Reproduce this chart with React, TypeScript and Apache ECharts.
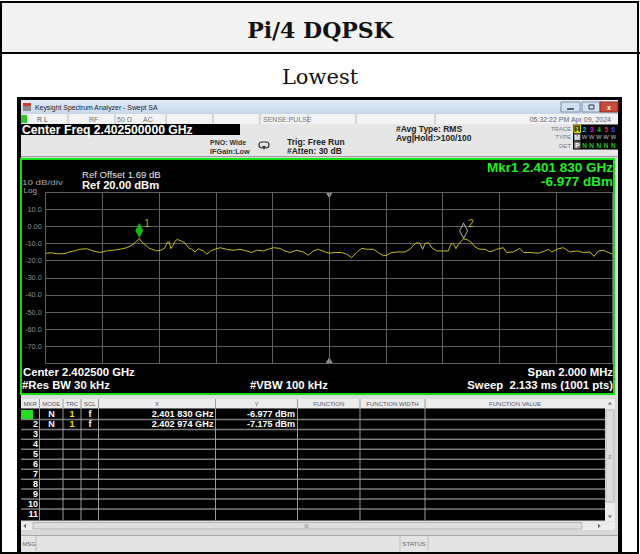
import React, { useEffect, useRef } from 'react';
import * as echarts from 'echarts';

// ---- data ----
const titleText = 'Pi/4 DQPSK';
const subTitleText = 'Lowest';
// trace: frequency offset from centre (kHz) and level (dBm)
const traceOffsetKHz = [-1000, -978, -957, -932, -914, -897, -879, -855, -833, -809, -785, -763, -738, -714, -697, -685, -670, -661, -650, -638, -626, -609, -591, -579, -571, -564, -559, -552, -544, -536, -520, -509, -497, -485, -473, -462, -444, -432, -418, -403, -385, -362, -338, -315, -291, -273, -256, -232, -215, -197, -174, -156, -138, -115, -91, -74, -56, -38, -15, 3, 21, 44, 62, 79, 97, 115, 132, 156, 173, 191, 203, 221, 244, 267, 285, 297, 309, 320, 330, 338, 350, 362, 379, 403, 420, 429, 438, 447, 455, 474, 491, 503, 514, 532, 550, 567, 591, 614, 626, 649, 673, 685, 708, 738, 761, 773, 785, 808, 826, 849, 873, 896, 920, 934, 949, 967, 985, 1000];
const traceLevelDbm = [-15.6, -15.4, -16.0, -15.8, -14.8, -14.2, -13.3, -13.0, -14.3, -15.2, -14.3, -13.9, -13.3, -12.4, -11.0, -9.5, -6.977, -9.1, -10.5, -12.4, -13.3, -14.3, -13.7, -12.4, -9.1, -9.1, -13.0, -11.4, -8.6, -7.6, -8.6, -9.5, -12.4, -13.3, -14.9, -13.0, -14.3, -16.2, -14.3, -13.3, -12.4, -13.3, -13.9, -13.3, -14.3, -15.2, -13.9, -14.3, -13.3, -12.4, -12.8, -14.3, -15.2, -13.9, -14.9, -16.8, -14.3, -13.3, -14.9, -15.6, -15.2, -15.2, -16.2, -18.1, -15.2, -12.8, -13.3, -13.3, -15.2, -17.1, -16.8, -15.2, -14.9, -14.9, -13.3, -11.0, -9.5, -9.9, -13.3, -9.9, -9.5, -12.4, -14.3, -14.3, -14.3, -10.5, -9.9, -13.0, -10.5, -7.175, -8.0, -9.5, -12.0, -13.3, -13.3, -14.9, -13.3, -12.4, -15.2, -14.9, -12.8, -15.2, -15.2, -15.6, -14.3, -13.3, -14.9, -13.0, -12.4, -14.9, -14.3, -15.2, -14.9, -17.5, -14.3, -13.9, -15.2, -16.2];
const markerNames = ['1', '2'];
const markerOffsetKHz = [-670, 474];
const markerLevelDbm = [-6.977, -7.175];
const markerXText = ['2.401 830 GHz', '2.402 974 GHz'];
const markerYText = ['-6.977 dBm', '-7.175 dBm'];
const yTickValues = [10, 0, -10, -20, -30, -40, -50, -60, -70];
const yTickLabels = ['10.0', '0.00', '-10.0', '-20.0', '-30.0', '-40.0', '-50.0', '-60.0', '-70.0'];
const tableHeaders = ['MKR', 'MODE', 'TRC', 'SCL', 'X', 'Y', 'FUNCTION', 'FUNCTION WIDTH', 'FUNCTION VALUE'];
const rowNumbers = ['1', '2', '3', '4', '5', '6', '7', '8', '9', '10', '11'];

const SANS = 'Liberation Sans, Arial, Helvetica, sans-serif';
const SERIF = 'DejaVu Serif, Liberation Serif, serif';

function T(x: number, y: number, text: string, size: number, fill: string, o: any = {}) {
  const el: any = {
    type: 'text', x, y, z: 30, silent: true,
    style: {
      text, fill, fontSize: size, fontFamily: o.family || SANS,
      fontWeight: o.bold ? 'bold' : 'normal',
      textAlign: o.align || 'left', textVerticalAlign: 'middle',
    },
  };
  if (o.sx) el.scaleX = o.sx;
  return el;
}
function R(x: number, y: number, w: number, h: number, fill: any, stroke?: string, lw = 1, z = 1) {
  return {
    type: 'rect', z, silent: true,
    shape: { x, y, width: w, height: h },
    style: { fill, stroke: stroke || null, lineWidth: stroke ? lw : 0 },
  };
}
function L(x1: number, y1: number, x2: number, y2: number, stroke: string, lw = 1, z = 3) {
  return { type: 'line', z, silent: true, shape: { x1, y1, x2, y2 }, style: { stroke, lineWidth: lw } };
}
function P(points: number[][], fill: string, z = 4) {
  return { type: 'polygon', z, silent: true, shape: { points }, style: { fill } };
}

function buildGraphics() {
  const g: any[] = [];
  // page / table
  g.push(R(0, 0, 640, 554, '#ffffff', undefined, 0, 0));
  g.push(R(1, 2, 637, 51, '#f2f2f2', undefined, 0, 1));
  g.push(R(1, 2, 637, 551, null, '#000000', 2, 25));
  g.push(R(0, 52, 640, 2, '#000000', undefined, 0, 25));
  g.push(T(320, 30, titleText, 22, '#111', { bold: true, align: 'center', family: SERIF }));
  g.push(T(320, 77, subTitleText, 21, '#111', { align: 'center', family: SERIF }));

  // screenshot frame
  g.push(R(17, 97, 605, 457, '#000000', undefined, 0, 1));
  g.push(R(21, 100, 597, 452, '#d9d9d9', undefined, 0, 2));
  // title bar
  g.push(R(21, 100, 597, 14, new echarts.graphic.LinearGradient(0, 0, 0, 1, [
    { offset: 0, color: '#e3ecf7' }, { offset: 1, color: '#c6d6ea' }]), undefined, 0, 3));
  g.push(R(23, 103, 8, 8, '#8a8a8a', undefined, 0, 4));
  g.push(R(23, 103, 8, 3, '#d23a2a', undefined, 0, 5));
  g.push(T(35, 107.5, 'Keysight Spectrum Analyzer - Swept SA', 6.9, '#222'));
  g.push(R(561, 102, 19, 10, '#d3e0f1', '#7d8fa8', 1, 4));
  g.push(R(582, 102, 18, 10, '#d3e0f1', '#7d8fa8', 1, 4));
  g.push(R(600, 102, 18, 10, '#c94b3c', '#8a2a20', 1, 4));
  g.push(L(567, 109, 574, 109, '#333', 1.5, 6));
  g.push(R(589, 105, 5, 4, null, '#333', 1, 6));
  g.push(T(609, 107, 'x', 7, '#ffffff', { bold: true, align: 'center' }));
  // status row
  g.push(R(21, 114, 597, 10, '#f2f2f2', undefined, 0, 3));
  g.push(R(21, 115, 6, 8, '#2fc52f', undefined, 0, 4));
  [68, 115, 166, 213, 260, 308, 356, 435].forEach((x) => g.push(L(x, 114, x, 124, '#b9b9b9', 1, 4)));
  g.push(T(37, 119, 'R L', 7, '#555'));
  g.push(T(89, 119, 'RF', 7, '#777'));
  g.push(T(117, 119, '50 Ω', 7, '#777'));
  g.push(T(143, 119, 'AC', 7, '#777'));
  g.push(T(263, 119, 'SENSE:PULSE', 7, '#777'));
  g.push(T(611, 119, '05:32:22 PM Apr 09, 2024', 7, '#666', { align: 'right' }));
  // settings area
  g.push(R(21, 124, 597, 32, '#e6e6e6', undefined, 0, 3));
  g.push(R(21, 124, 219, 11, '#000000', undefined, 0, 4));
  g.push(T(22, 129.8, 'Center Freq 2.402500000 GHz', 12.2, '#ffffff', { bold: true }));
  g.push(T(210, 142, 'PNO: Wide', 7, '#333', { bold: true }));
  g.push(T(210, 151, 'IFGain:Low', 7.3, '#333', { bold: true }));
  g.push({ type: 'rect', z: 5, silent: true, shape: { x: 259, y: 142, width: 10, height: 6, r: 3 }, style: { fill: null, stroke: '#333', lineWidth: 1.2 } });
  g.push(P([[262, 146], [266, 146], [264, 150]], '#333', 6));
  g.push(T(287, 142, 'Trig: Free Run', 8.5, '#222', { bold: true }));
  g.push(T(287, 151, '#Atten: 30 dB', 8.5, '#222', { bold: true }));
  g.push(T(396, 129, '#Avg Type: RMS', 8.5, '#222', { bold: true }));
  g.push(T(396, 138, 'Avg|Hold:>100/100', 8.5, '#222', { bold: true }));
  g.push(T(571, 128.5, 'TRACE', 6, '#777', { align: 'right' }));
  g.push(T(571, 137, 'TYPE', 6, '#777', { align: 'right' }));
  g.push(T(571, 145.5, 'DET', 6, '#777', { align: 'right' }));
  g.push(R(573, 124.5, 45, 25, '#000000', undefined, 0, 4));
  g.push(R(574, 125, 6.5, 7.5, '#333300', '#e0d000', 1, 5));
  g.push(R(574, 133.5, 6.5, 7, '#7a7a7a', undefined, 0, 5));
  g.push(R(574, 141.5, 6.5, 7, '#7a7a7a', undefined, 0, 5));
  const trColors = ['#e8dc00', '#19c8c8', '#d81fd8', '#22c022', '#e02a2a', '#3050ff'];
  trColors.forEach((c, i) => g.push(T(577.3 + i * 7.2, 129, String(i + 1), 7, c, { bold: true, align: 'center' })));
  g.push(T(577.3, 137.2, 'M', 6.5, '#ffffff', { bold: true, align: 'center' }));
  g.push(T(577.3, 145.2, 'P', 6.5, '#ffffff', { bold: true, align: 'center' }));
  for (let i = 1; i < 6; i++) {
    g.push(T(577.3 + i * 7.2, 137.2, 'W', 6, '#8a8a8a', { bold: true, align: 'center' }));
    g.push(T(577.3 + i * 7.2, 145.2, 'N', 6.5, '#22c822', { bold: true, align: 'center' }));
  }
  g.push(L(21, 156.5, 618, 156.5, '#9a9a9a', 1, 4));

  // plot frame
  g.push(R(21, 159, 593, 235, '#000000', '#10e010', 2, 4));
  g.push(T(82, 174, 'Ref Offset 1.69 dB', 9.6, '#e8e8e8'));
  g.push(T(82, 185.2, 'Ref 20.00 dBm', 11.2, '#ffffff', { bold: true }));
  g.push(T(22, 182.8, '10 dB/div', 7, '#a8a8a8', { sx: 1.4 }));
  g.push(T(23.5, 191, 'Log', 7, '#a8a8a8', { sx: 1.15 }));
  g.push(T(613, 167.5, 'Mkr1 ' + markerXText[0], 13.5, '#22ee22', { bold: true, align: 'right' }));
  g.push(T(613, 181.5, markerYText[0], 13.5, '#22ee22', { bold: true, align: 'right' }));
  g.push(T(23, 371.7, 'Center 2.402500 GHz', 11.3, '#ffffff', { bold: true }));
  g.push(T(22, 385, '#Res BW 30 kHz', 11.3, '#ffffff', { bold: true }));
  g.push(T(250, 385, '#VBW 100 kHz', 11.3, '#ffffff', { bold: true }));
  g.push(T(613, 371.7, 'Span 2.000 MHz', 11.3, '#ffffff', { bold: true, align: 'right' }));
  g.push(T(613, 385, 'Sweep  2.133 ms (1001 pts)', 11.3, '#ffffff', { bold: true, align: 'right' }));

  // marker table
  const cols = [21, 39.5, 63, 81, 98.5, 215.5, 297.5, 360, 425, 605];
  g.push(R(21, 399, 584, 9, '#ececec', undefined, 0, 4));
  g.push(R(21, 408.5, 584, 112, '#000000', undefined, 0, 4));
  tableHeaders.forEach((h, i) => {
    const cx = (cols[i] + cols[i + 1]) / 2;
    g.push(T(cx, 403.5, h, 6, '#5a5470', { align: 'center' }));
  });
  const rowTop = 409.5, rowH = 9.95;
  for (let k = 1; k <= 10; k++) g.push(L(21, rowTop + k * rowH, 605, rowTop + k * rowH, '#7c7c7c', 1.5, 5));
  cols.slice(1, 9).forEach((x) => g.push(L(x, 399, x, 520.5, '#9a9a9a', 1, 5)));
  g.push(R(21, 410, 12, 9, '#22dd22', undefined, 0, 6));
  rowNumbers.forEach((n, i) => {
    g.push(T(38, rowTop + (i + 0.5) * rowH, n, 9, i === 0 ? '#000000' : '#ffffff', { bold: true, align: 'right' }));
  });
  markerNames.forEach((n, i) => {
    const cy = rowTop + (i + 0.5) * rowH;
    g.push(T(51.5, cy, 'N', 9, '#ffffff', { bold: true, align: 'center' }));
    g.push(T(72, cy, '1', 9, '#f0e000', { bold: true, align: 'center' }));
    g.push(T(90, cy, 'f', 9, '#ffffff', { bold: true, align: 'center' }));
    g.push(T(213.5, cy, markerXText[i], 9.2, '#ffffff', { bold: true, align: 'right' }));
    g.push(T(295, cy, markerYText[i], 9, '#ffffff', { bold: true, align: 'right' }));
  });
  // scrollbars
  g.push(R(21, 521.5, 594, 8.5, '#ececec', undefined, 0, 4));
  g.push(R(33, 522.5, 549, 6.5, '#dedede', '#b4b4b4', 1, 5));
  g.push(T(306.5, 526, 'III', 5, '#777', { align: 'center' }));
  g.push(P([[26, 523.8], [26, 528.2], [23.5, 526]], '#666', 6));
  g.push(P([[598, 523.8], [598, 528.2], [600.5, 526]], '#666', 6));
  g.push(R(605, 399, 10, 122, '#ececec', undefined, 0, 4));
  g.push(R(606, 410, 8, 92, '#dedede', '#b4b4b4', 1, 5));
  g.push(T(610, 456.5, '≡', 6, '#777', { align: 'center' }));
  g.push(P([[608, 404.5], [612, 404.5], [610, 402]], '#666', 6));
  g.push(P([[608, 515.5], [612, 515.5], [610, 518]], '#666', 6));
  // status bar
  g.push(R(21, 535, 597, 17, '#e4e4e4', undefined, 0, 4));
  g.push(L(21, 535.5, 618, 535.5, '#a6a6a6', 1, 5));
  g.push(L(36, 536, 36, 551, '#bdbdbd', 1, 5));
  g.push(L(400, 536, 400, 551, '#bdbdbd', 1, 5));
  g.push(L(428, 536, 428, 551, '#bdbdbd', 1, 5));
  g.push(T(22.5, 543.5, 'MSG', 5.8, '#666'));
  g.push(T(414, 543.5, 'STATUS', 6.2, '#666', { align: 'center' }));
  return g;
}

export default function App() {
  const ref = useRef<HTMLDivElement>(null);
  useEffect(() => {
    document.body.style.margin = '0';
    if (!ref.current) return;
    const chart = echarts.init(ref.current, undefined, { renderer: 'svg' });
    const traceData = traceOffsetKHz.map((x, i) => [x, traceLevelDbm[i]]);
    const markerData = markerOffsetKHz.map((x, i) => ({
      value: [x, markerLevelDbm[i]],
      name: markerNames[i],
      itemStyle: i === 0
        ? { color: '#16e016', borderWidth: 0 }
        : { color: 'rgba(0,0,0,0)', borderColor: '#d8d8d8', borderWidth: 1 },
    }));
    chart.setOption({
      animation: false,
      backgroundColor: 'transparent',
      graphic: buildGraphics(),
      grid: { left: 45.7, top: 192.3, width: 567, height: 171, show: false },
      xAxis: {
        type: 'value', min: -1000, max: 1000, interval: 200, z: 10,
        axisLine: { show: false }, axisTick: { show: false }, axisLabel: { show: false },
        splitLine: { show: true, lineStyle: { color: '#606060', width: 1 } },
      },
      yAxis: {
        type: 'value', min: -80, max: 20, interval: 10, z: 10,
        axisLine: { show: true, lineStyle: { color: '#6a6a6a', width: 1 } },
        axisTick: { show: false },
        splitLine: { show: true, lineStyle: { color: '#606060', width: 1 } },
        axisLabel: {
          color: '#8e8e8e', fontSize: 7.3, margin: 4, fontFamily: SANS,
          formatter: (v: number) => {
            const i = yTickValues.indexOf(v);
            return i >= 0 ? yTickLabels[i] : '';
          },
        },
      },
      series: [
        {
          type: 'line', data: traceData, showSymbol: false, z: 12,
          lineStyle: { color: '#c4bc1a', width: 1 },
          markPoint: {
            silent: true,
            symbol: 'triangle', symbolSize: [7, 6],
            itemStyle: { color: '#9a9a9a' },
            label: { show: false },
            data: [
              { coord: [0, 20], symbolRotate: 180, symbolOffset: [0, 3] },
              { coord: [0, -80], symbolOffset: [0, -3] },
            ],
          },
        },
        {
          type: 'scatter', data: markerData, z: 13,
          symbol: 'diamond', symbolSize: [8, 15], symbolOffset: [0, -8],
          label: {
            show: true, formatter: (p: any) => p.name, position: [9, -4],
            color: '#e8dc00', fontSize: 10, fontFamily: SANS,
          },
        },
      ],
    });
    return () => chart.dispose();
  }, []);
  return <div ref={ref} style={{ width: 640, height: 554, position: 'absolute', left: 0, top: 0 }} />;
}
